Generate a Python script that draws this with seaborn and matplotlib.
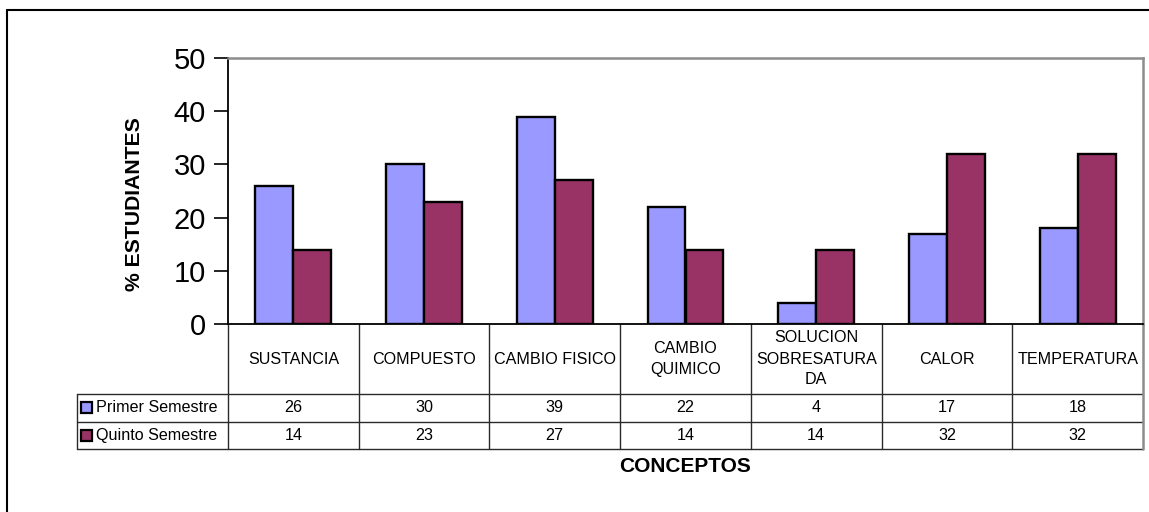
import matplotlib
matplotlib.use("Agg")
import matplotlib.pyplot as plt
from matplotlib.lines import Line2D
from matplotlib.patches import Rectangle
from matplotlib.transforms import blended_transform_factory
import seaborn as sns
import pandas as pd

# ---- data -------------------------------------------------------------
conceptos = ["SUSTANCIA", "COMPUESTO", "CAMBIO FISICO", "CAMBIO\nQUIMICO",
             "SOLUCION\nSOBRESATURA\nDA", "CALOR", "TEMPERATURA"]
series_names = ["Primer Semestre", "Quinto Semestre"]
primer = [26, 30, 39, 22, 4, 17, 18]
quinto = [14, 23, 27, 14, 14, 32, 32]
y_ticks = [0, 10, 20, 30, 40, 50]
colors = ["#9999FF", "#993366"]

df = pd.DataFrame({
    "Concepto": conceptos * 2,
    "Semestre": [series_names[0]] * len(conceptos) + [series_names[1]] * len(conceptos),
    "Valor": primer + quinto,
})

# ---- figure -----------------------------------------------------------
sns.set_theme(style="white")
plt.rcParams["font.family"] = ["Liberation Sans", "DejaVu Sans"]
plt.rcParams["text.color"] = "black"
plt.rcParams["ytick.color"] = "black"
plt.rcParams["ytick.labelcolor"] = "black"

W, H = 1149, 512
fig = plt.figure(figsize=(W / 100, H / 100), dpi=100)
fig.patch.set_facecolor("white")

# plot area in pixel units
PL, PR, PT, PB = 228, 1143, 58, 324
ax = fig.add_axes([PL / W, (H - PB) / H, (PR - PL) / W, (PB - PT) / H])

sns.barplot(data=df, x="Concepto", y="Valor", hue="Semestre",
            order=conceptos, hue_order=series_names, palette=colors,
            saturation=1, width=0.58, edgecolor="black", linewidth=1.7,
            legend=False, ax=ax)

ax.set_xlim(-0.5, len(conceptos) - 0.5)
ax.set_ylim(0, 50)
ax.set_yticks(y_ticks)
ax.set_yticklabels([str(v) for v in y_ticks], fontsize=21, color="black")
ax.tick_params(axis="y", length=10, width=1.2, color="black", pad=6,
               left=True, direction="out")
ax.tick_params(axis="x", length=0, labelbottom=False)
ax.set_xlabel("")
ax.set_ylabel("")
for side in ("left", "bottom"):
    ax.spines[side].set_color("black")
    ax.spines[side].set_linewidth(1.3)
for side in ("top", "right"):
    ax.spines[side].set_color("#8c8c8c")
    ax.spines[side].set_linewidth(1.8)


# ---- data table under the axis ---------------------------------------
def ax_y(py):
    return (PB - py) / (PB - PT)


def ax_x(px):
    return (px - PL) / (PR - PL)


rows_y = [324, 394, 421.5, 449]          # row boundaries (pixels)
legend_left = 77
line_kw = dict(color="#2a2a2a", linewidth=1.0, clip_on=False)
table_tr = blended_transform_factory(ax.transData, ax.transAxes)

# horizontal rules of the value rows
for py in rows_y[1:]:
    ax.add_line(Line2D([ax_x(legend_left), 1.0], [ax_y(py), ax_y(py)],
                       transform=ax.transAxes, **line_kw))
# legend column left edge
ax.add_line(Line2D([ax_x(legend_left)] * 2, [ax_y(rows_y[1]), ax_y(rows_y[3])],
                   transform=ax.transAxes, **line_kw))
# column separators
n = len(conceptos)
for i in range(n + 1):
    xb = i - 0.5
    col = "#8c8c8c" if i == n else "#2a2a2a"
    ax.add_line(Line2D([xb, xb], [ax_y(rows_y[0]), ax_y(rows_y[3])],
                       transform=table_tr, color=col,
                       linewidth=1.8 if i == n else 1.0, clip_on=False))

# category labels
cat_y = ax_y((rows_y[0] + rows_y[1]) / 2)
for i, name in enumerate(conceptos):
    ax.text(i, cat_y, name, transform=table_tr, ha="center", va="center",
            fontsize=11.6, color="black", multialignment="center",
            linespacing=1.5)

# value rows with legend keys
for r, (label, vals, c) in enumerate(zip(series_names, [primer, quinto], colors)):
    yc = ax_y((rows_y[r + 1] + rows_y[r + 2]) / 2)
    for i, v in enumerate(vals):
        ax.text(i, yc, str(v), transform=table_tr, ha="center", va="center",
                fontsize=11.6, color="black")
    ax.add_patch(Rectangle((ax_x(80.5), yc - 5.5 / (PB - PT)),
                           11 / (PR - PL), 11 / (PB - PT),
                           transform=ax.transAxes, facecolor=c,
                           edgecolor="black", linewidth=1.6, clip_on=False))
    ax.text(ax_x(96), yc, label, transform=ax.transAxes, ha="left",
            va="center", fontsize=11.6, color="black")

# axis titles
fig.text(134 / W, 1 - 204 / H, "% ESTUDIANTES", rotation=90, ha="center",
         va="center", fontsize=15.2, fontweight="bold", color="black")
fig.text(685 / W, 1 - 467 / H, "CONCEPTOS", ha="center", va="center",
         fontsize=15, fontweight="bold", color="black")

# outer chart frame (extends past the right and bottom edges)
fig.add_artist(Line2D([7 / W, 1.01], [1 - 10 / H] * 2, color="black",
                      linewidth=1.5, transform=fig.transFigure))
fig.add_artist(Line2D([7 / W] * 2, [1 - 10 / H, -0.01], color="black",
                      linewidth=1.5, transform=fig.transFigure))

fig.savefig("out.png", dpi=100, facecolor="white")
